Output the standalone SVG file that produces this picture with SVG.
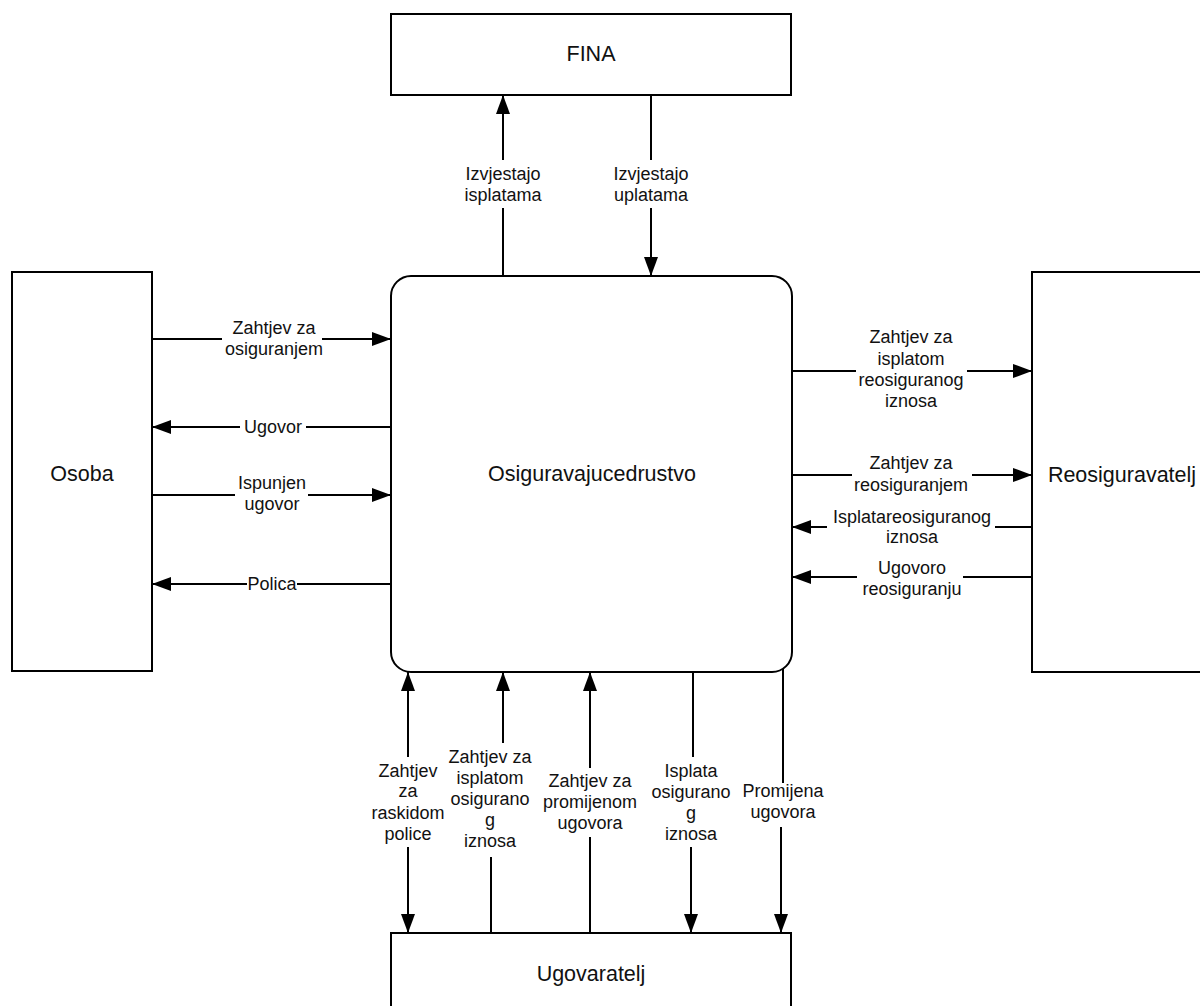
<svg xmlns="http://www.w3.org/2000/svg" width="1200" height="1006" viewBox="0 0 1200 1006">
<style>
.box{fill:#fff;stroke:#000;stroke-width:2}
.ln{fill:none;stroke:#000;stroke-width:2}
.arr{marker-end:url(#ah)}
.nt{font-family:"Liberation Sans",Arial,sans-serif;font-size:21.5px;fill:#111;text-anchor:middle}
.lt{font-family:"Liberation Sans",Arial,sans-serif;font-size:18px;fill:#111;text-anchor:middle}
</style>
<defs>
<marker id="ah" markerUnits="userSpaceOnUse" markerWidth="20" markerHeight="14" viewBox="0 0 20 14" refX="19" refY="7" orient="auto">
<path d="M0,0 L19,7 L0,14 Z" fill="#000"/>
</marker>
</defs>
<rect width="1200" height="1006" fill="#fff"/>

<g id="fina"><rect class="box" x="391" y="14" width="400" height="81"/><text class="nt" x="591" y="61">FINA</text></g>
<g id="osoba"><rect class="box" x="12" y="272" width="140" height="399"/><text class="nt" x="82" y="481">Osoba</text></g>
<g id="drustvo"><rect class="box" x="391" y="276" width="401" height="396" rx="20" ry="20"/><text class="nt" x="592" y="481">Osiguravajucedrustvo</text></g>
<g id="reosiguravatelj"><rect class="box" x="1032" y="272" width="180" height="400"/><text class="nt" x="1122" y="482">Reosiguravatelj</text></g>
<g id="ugovaratelj"><rect class="box" x="391" y="933" width="400" height="90"/><text class="nt" x="591" y="981">Ugovaratelj</text></g>

<g id="connectors">
<!-- FINA -->
<line class="ln" x1="503" y1="276" x2="503" y2="208"/>
<line class="ln arr" x1="503" y1="160" x2="503" y2="95"/>
<text class="lt" x="503" y="180">Izvjestajo</text><text class="lt" x="503" y="201">isplatama</text>
<line class="ln" x1="651" y1="95" x2="651" y2="160"/>
<line class="ln arr" x1="651" y1="208" x2="651" y2="276"/>
<text class="lt" x="651" y="180">Izvjestajo</text><text class="lt" x="651" y="201">uplatama</text>

<!-- Osoba -->
<line class="ln" x1="152" y1="339" x2="222" y2="339"/>
<line class="ln arr" x1="322" y1="339" x2="391" y2="339"/>
<text class="lt" x="274" y="334">Zahtjev za</text><text class="lt" x="274" y="355">osiguranjem</text>
<line class="ln" x1="391" y1="427" x2="306" y2="427"/>
<line class="ln arr" x1="240" y1="427" x2="152" y2="427"/>
<text class="lt" x="273" y="433">Ugovor</text>
<line class="ln" x1="152" y1="495" x2="235" y2="495"/>
<line class="ln arr" x1="308" y1="495" x2="391" y2="495"/>
<text class="lt" x="272" y="489">Ispunjen</text><text class="lt" x="272" y="510">ugovor</text>
<line class="ln" x1="391" y1="584" x2="297" y2="584"/>
<line class="ln arr" x1="247" y1="584" x2="152" y2="584"/>
<text class="lt" x="272" y="590">Polica</text>

<!-- Reosiguravatelj -->
<line class="ln" x1="792" y1="371" x2="856" y2="371"/>
<line class="ln arr" x1="967" y1="371" x2="1032" y2="371"/>
<text class="lt" x="911" y="343">Zahtjev za</text><text class="lt" x="911" y="365">isplatom</text><text class="lt" x="911" y="386">reosiguranog</text><text class="lt" x="911" y="407">iznosa</text>
<line class="ln" x1="792" y1="475" x2="852" y2="475"/>
<line class="ln arr" x1="972" y1="475" x2="1032" y2="475"/>
<text class="lt" x="911" y="469">Zahtjev za</text><text class="lt" x="911" y="491">reosiguranjem</text>
<line class="ln" x1="1032" y1="527" x2="995" y2="527"/>
<line class="ln arr" x1="827" y1="527" x2="792" y2="527"/>
<text class="lt" x="912" y="523">Isplatareosiguranog</text><text class="lt" x="912" y="543">iznosa</text>
<line class="ln" x1="1032" y1="577" x2="963" y2="577"/>
<line class="ln arr" x1="857" y1="577" x2="792" y2="577"/>
<text class="lt" x="912" y="574">Ugovoro</text><text class="lt" x="912" y="595">reosiguranju</text>

<!-- Ugovaratelj -->
<line class="ln arr" x1="408" y1="757" x2="408" y2="672"/>
<line class="ln arr" x1="408" y1="847" x2="408" y2="933"/>
<text class="lt" x="408" y="777">Zahtjev</text><text class="lt" x="408" y="797">za</text><text class="lt" x="408" y="819">raskidom</text><text class="lt" x="408" y="840">police</text>
<line class="ln" x1="491" y1="933" x2="491" y2="857"/>
<line class="ln arr" x1="503" y1="743" x2="503" y2="672"/>
<text class="lt" x="490" y="763">Zahtjev za</text><text class="lt" x="490" y="784">isplatom</text><text class="lt" x="490" y="805">osigurano</text><text class="lt" x="490" y="826">g</text><text class="lt" x="490" y="847">iznosa</text>
<line class="ln" x1="590" y1="933" x2="590" y2="837"/>
<line class="ln arr" x1="590" y1="768" x2="590" y2="672"/>
<text class="lt" x="590" y="787">Zahtjev za</text><text class="lt" x="590" y="808">promijenom</text><text class="lt" x="590" y="829">ugovora</text>
<line class="ln" x1="693" y1="672" x2="693" y2="757"/>
<line class="ln arr" x1="691" y1="847" x2="691" y2="933"/>
<text class="lt" x="691" y="777">Isplata</text><text class="lt" x="691" y="798">osigurano</text><text class="lt" x="691" y="819">g</text><text class="lt" x="691" y="840">iznosa</text>
<line class="ln" x1="783" y1="669" x2="783" y2="783"/>
<line class="ln arr" x1="781" y1="827" x2="781" y2="933"/>
<text class="lt" x="783" y="797">Promijena</text><text class="lt" x="783" y="818">ugovora</text>
</g>
</svg>
